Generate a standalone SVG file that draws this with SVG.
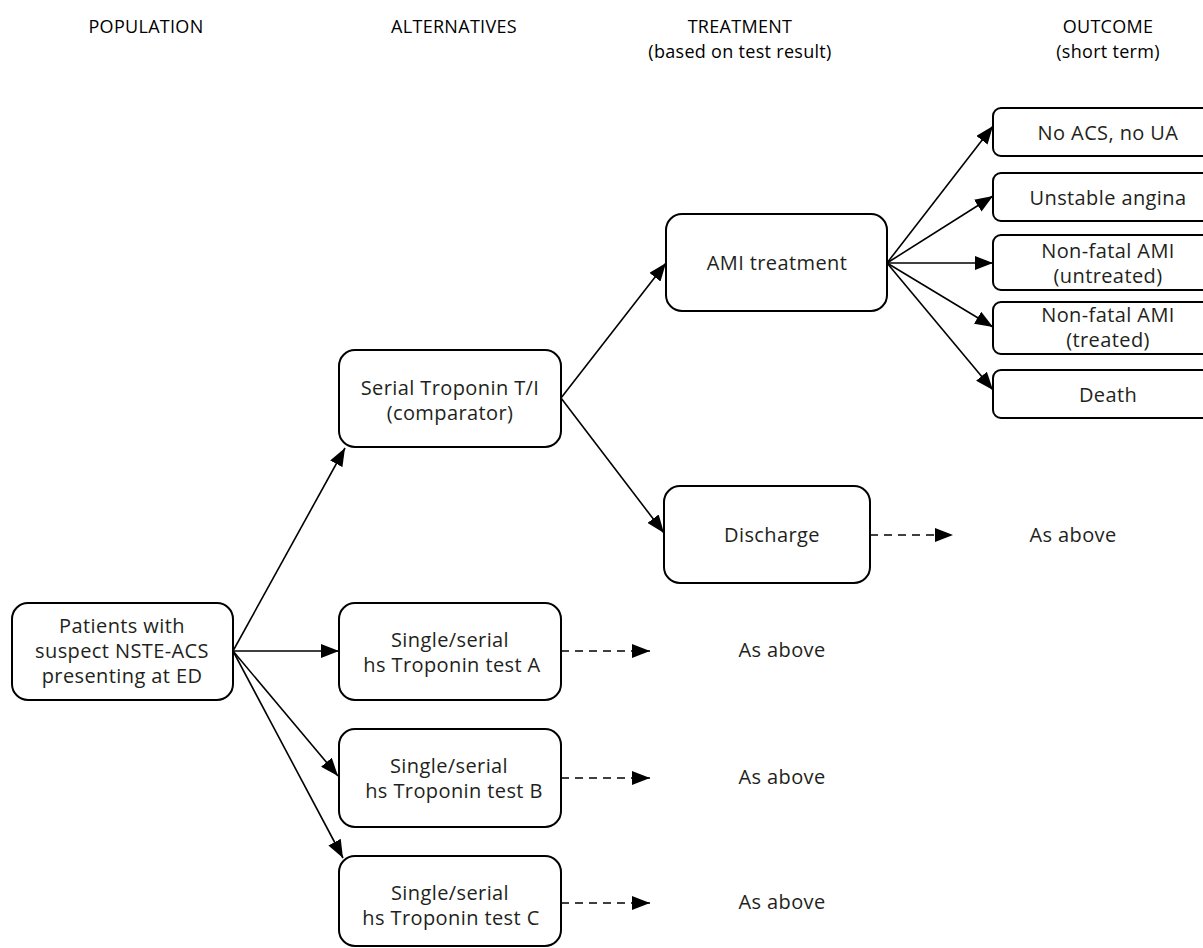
<svg xmlns="http://www.w3.org/2000/svg" width="1203" height="948" viewBox="0 0 1203 948">
<style>
.box{fill:#fff;stroke:#000;stroke-width:2}
.t{font-family:"Open Sans","Noto Sans",sans-serif;font-size:20px;letter-spacing:0.4px;fill:#231f20;text-anchor:middle}
.h{font-family:"Open Sans","Noto Sans",sans-serif;font-size:18px;letter-spacing:0.3px;fill:#000;text-anchor:middle}
.ln{stroke:#000;stroke-width:1.6;fill:none}
.dash{stroke-dasharray:8 6}
</style>
<defs>
<marker id="ah" markerUnits="userSpaceOnUse" markerWidth="20" markerHeight="14" refX="18" refY="7" orient="auto">
<path d="M0,0 L18,7 L0,14 z" fill="#000"/>
</marker>
</defs>
<g id="headers">
<text class="h" x="146" y="33">POPULATION</text>
<text class="h" x="454" y="33">ALTERNATIVES</text>
<text class="h" x="740" y="33">TREATMENT</text>
<text class="h" x="740" y="58">(based on test result)</text>
<text class="h" x="1108" y="33">OUTCOME</text>
<text class="h" x="1108" y="58">(short term)</text>
</g>
<g id="connectors">
<line class="ln" x1="233" y1="651" x2="345" y2="448" marker-end="url(#ah)"/>
<line class="ln" x1="233" y1="651" x2="339" y2="651" marker-end="url(#ah)"/>
<line class="ln" x1="233" y1="651" x2="338" y2="776" marker-end="url(#ah)"/>
<line class="ln" x1="233" y1="651" x2="343" y2="858" marker-end="url(#ah)"/>
<line class="ln" x1="561" y1="398" x2="666" y2="263" marker-end="url(#ah)"/>
<line class="ln" x1="561" y1="398" x2="664" y2="533" marker-end="url(#ah)"/>
<line class="ln" x1="887" y1="263" x2="993" y2="126" marker-end="url(#ah)"/>
<line class="ln" x1="887" y1="263" x2="993" y2="196" marker-end="url(#ah)"/>
<line class="ln" x1="887" y1="263" x2="993" y2="263" marker-end="url(#ah)"/>
<line class="ln" x1="887" y1="263" x2="993" y2="327" marker-end="url(#ah)"/>
<line class="ln" x1="887" y1="263" x2="993" y2="390" marker-end="url(#ah)"/>
<line class="ln dash" x1="870" y1="535" x2="953" y2="535" marker-end="url(#ah)"/>
<line class="ln dash" x1="561" y1="651" x2="650" y2="651" marker-end="url(#ah)"/>
<line class="ln dash" x1="561" y1="778" x2="650" y2="778" marker-end="url(#ah)"/>
<line class="ln dash" x1="561" y1="903" x2="650" y2="903" marker-end="url(#ah)"/>
</g>
<g id="patients">
<rect class="box" x="12" y="603" width="221" height="97" rx="16"/>
<text class="t" x="122" y="633">Patients with</text>
<text class="t" x="122" y="658">suspect NSTE-ACS</text>
<text class="t" x="122" y="683">presenting at ED</text>
</g>
<g id="serial">
<rect class="box" x="339" y="350" width="222" height="97" rx="16"/>
<text class="t" x="450" y="395">Serial Troponin T/I</text>
<text class="t" x="450" y="420">(comparator)</text>
</g>
<g id="testA">
<rect class="box" x="339" y="603" width="222" height="97" rx="16"/>
<text class="t" x="450" y="647">Single/serial</text>
<text class="t" x="452" y="672">hs Troponin test A</text>
</g>
<g id="testB">
<rect class="box" x="339" y="729" width="222" height="98" rx="16"/>
<text class="t" x="449" y="773">Single/serial</text>
<text class="t" x="454" y="798">hs Troponin test B</text>
</g>
<g id="testC">
<rect class="box" x="339" y="856" width="222" height="90" rx="16"/>
<text class="t" x="450" y="900">Single/serial</text>
<text class="t" x="451" y="925">hs Troponin test C</text>
</g>
<g id="ami">
<rect class="box" x="666" y="214" width="221" height="97" rx="16"/>
<text class="t" x="777" y="270">AMI treatment</text>
</g>
<g id="discharge">
<rect class="box" x="664" y="486" width="206" height="97" rx="16"/>
<text class="t" x="772" y="542">Discharge</text>
</g>
<g id="o1">
<rect class="box" x="993" y="108" width="240" height="48" rx="8"/>
<text class="t" x="1108" y="140">No ACS, no UA</text>
</g>
<g id="o2">
<rect class="box" x="993" y="173" width="240" height="48" rx="8"/>
<text class="t" x="1108" y="205">Unstable angina</text>
</g>
<g id="o3">
<rect class="box" x="993" y="235" width="240" height="55" rx="8"/>
<text class="t" x="1108" y="258">Non-fatal AMI</text>
<text class="t" x="1108" y="283">(untreated)</text>
</g>
<g id="o4">
<rect class="box" x="993" y="302" width="240" height="52" rx="8"/>
<text class="t" x="1108" y="322">Non-fatal AMI</text>
<text class="t" x="1108" y="347">(treated)</text>
</g>
<g id="o5">
<rect class="box" x="993" y="370" width="240" height="48" rx="8"/>
<text class="t" x="1108" y="402">Death</text>
</g>
<g id="asabove">
<text class="t" x="1073" y="542">As above</text>
<text class="t" x="782" y="657">As above</text>
<text class="t" x="782" y="784">As above</text>
<text class="t" x="782" y="909">As above</text>
</g>
</svg>
